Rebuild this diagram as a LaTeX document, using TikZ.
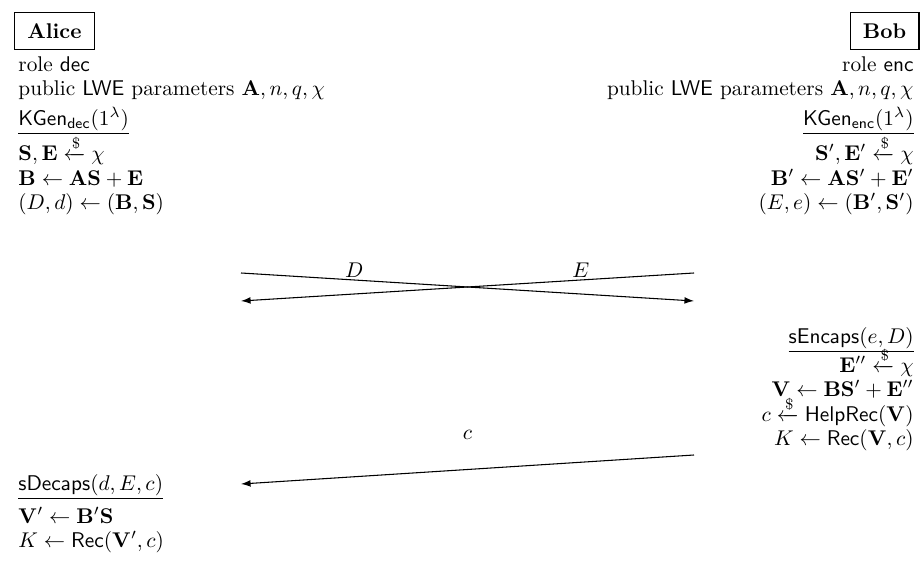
\documentclass[tikz,border=0pt]{standalone}
\usepackage{amsmath,amssymb}
\usetikzlibrary{arrows.meta}
\newcommand{\smp}{\xleftarrow{\$}}
\begin{document}
\begin{tikzpicture}[x=0.4695pt,y=-0.4695pt,
  party/.style={draw, line width=0.5pt, font=\bfseries, inner xsep=6pt, minimum height=17.5pt},
  row/.style={inner sep=0pt, text height=7pt, text depth=2.2pt},
  lft/.style={row, anchor=mid west},
  rgt/.style={row, anchor=mid east},
  msg/.style={line width=0.5pt, -{Latex[length=4.5pt,width=3.2pt]}},
  lbl/.style={above, inner sep=1pt}]
\useasboundingbox (0,0) rectangle (920,574);
% parties
\node[party, anchor=north west] (alice) at (14,12) {Alice};
\node[party, anchor=north east] (bob) at (919.5,12) {Bob};
% Alice column
\node[lft] (a1) at (18,67) {role \textsf{dec}};
\node[lft] (a2) at (18,91) {public \textsf{LWE} parameters $\mathbf{A}, n, q, \chi$};
\node[lft] (a3) at (18,121) {$\underline{\mathsf{KGen}_{\mathsf{dec}}(1^\lambda)}$};
\node[lft] (a4) at (18,156) {$\mathbf{S}, \mathbf{E} \smp \chi$};
\node[lft] (a5) at (18,181) {$\mathbf{B} \leftarrow \mathbf{A}\mathbf{S} + \mathbf{E}$};
\node[lft] (a6) at (18,205) {$(D, d) \leftarrow (\mathbf{B}, \mathbf{S})$};
% Bob column
\node[rgt] (b1) at (914,67) {role \textsf{enc}};
\node[rgt] (b2) at (914,91) {public \textsf{LWE} parameters $\mathbf{A}, n, q, \chi$};
\node[rgt] (b3) at (914,121) {$\underline{\mathsf{KGen}_{\mathsf{enc}}(1^\lambda)}$};
\node[rgt] (b4) at (914,156) {$\mathbf{S}', \mathbf{E}' \smp \chi$};
\node[rgt] (b5) at (914,181) {$\mathbf{B}' \leftarrow \mathbf{A}\mathbf{S}' + \mathbf{E}'$};
\node[rgt] (b6) at (914,205) {$(E, e) \leftarrow (\mathbf{B}', \mathbf{S}')$};
% messages D, E
\coordinate (m1s) at (241,273);
\coordinate (m1e) at (694,301);
\coordinate (m2s) at (694,273);
\coordinate (m2e) at (241,301);
\draw[msg] (m1s) -- node[lbl, pos=0.25] {$D$} (m1e);
\draw[msg] (m2s) -- node[lbl, pos=0.25] {$E$} (m2e);
% Bob encapsulation
\node[rgt] (b7) at (914,339) {$\underline{\mathsf{sEncaps}(e, D)}$};
\node[rgt] (b8) at (914,368) {$\mathbf{E}'' \smp \chi$};
\node[rgt] (b9) at (914,392) {$\mathbf{V} \leftarrow \mathbf{B}\mathbf{S}' + \mathbf{E}''$};
\node[rgt] (b10) at (914,417) {$c \smp \mathsf{HelpRec}(\mathbf{V})$};
\node[rgt] (b11) at (914,441) {$K \leftarrow \mathsf{Rec}(\mathbf{V}, c)$};
% message c
\coordinate (m3s) at (694,455);
\coordinate (m3e) at (241,484);
\draw[msg] (m3s) -- node[lbl, pos=0.5, yshift=13pt] {$c$} (m3e);
% Alice decapsulation
\node[lft] (a7) at (18,486) {$\underline{\mathsf{sDecaps}(d, E, c)}$};
\node[lft] (a8) at (18,519) {$\mathbf{V}' \leftarrow \mathbf{B}'\mathbf{S}$};
\node[lft] (a9) at (18,543) {$K \leftarrow \mathsf{Rec}(\mathbf{V}', c)$};
\end{tikzpicture}
\end{document}
